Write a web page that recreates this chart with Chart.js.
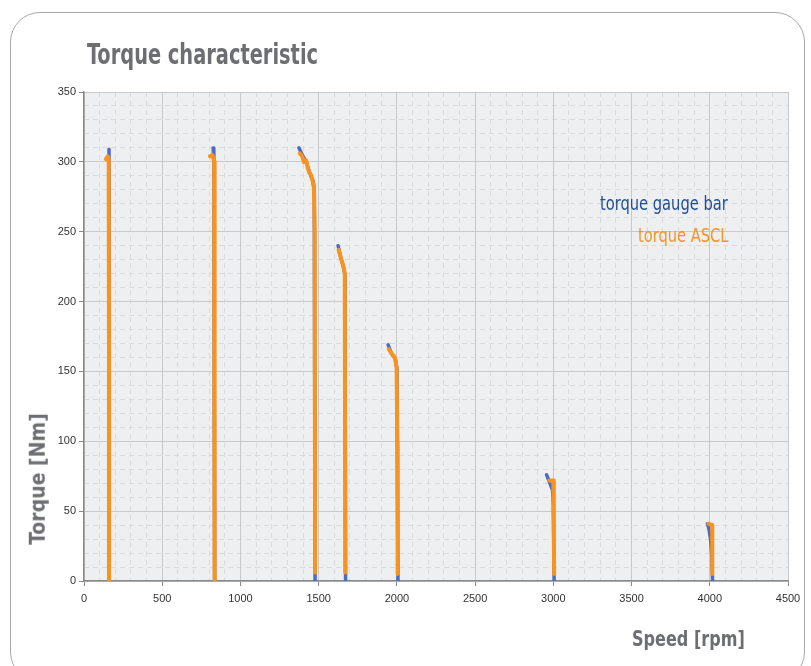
<!DOCTYPE html>
<html>
<head>
<meta charset="utf-8">
<script src="https://cdn.jsdelivr.net/npm/chart.js@4/dist/chart.umd.min.js"></script>
<style>
  body { margin: 0; background: #fff; width: 811px; height: 666px; overflow: hidden; position: relative; }
  .card { position: absolute; left: 10px; top: 12px; width: 795px; height: 670px; border: 1px solid #a9a9a9; border-radius: 30px; box-sizing: border-box; }
  #wrap { position: absolute; left: 0; top: 0; width: 811px; height: 666px; }
  .txt { position: absolute; font-family: "DejaVu Sans Condensed", "DejaVu Sans", sans-serif; font-stretch: condensed; white-space: nowrap; }
  #title { left: 87px; top: 38px; font-size: 28px; font-weight: bold; color: #6d6e71; transform-origin: 0 0; }
  #xtitle { left: 632px; top: 627px; font-size: 21px; font-weight: bold; color: #6d6e71; transform-origin: 0 0; }
  #ytitle { left: 38px; top: 478px; font-size: 21px; font-weight: bold; color: #6d6e71; }
  .leg { font-size: 19px; transform-origin: 100% 0; }
  #leg1 { top: 192px; color: #1f4d94; }
  #leg2 { top: 224px; color: #f7941d; }
</style>
</head>
<body>
<div class="card"></div>
<div id="wrap"><canvas id="c" width="811" height="666"></canvas></div>
<div class="txt" id="title">Torque characteristic</div>
<div class="txt" id="xtitle">Speed [rpm]</div>
<div class="txt" id="ytitle">Torque [Nm]</div>
<div class="txt leg" id="leg1">torque gauge bar</div>
<div class="txt leg" id="leg2">torque ASCL</div>
<script>
// torque gauge bar (blue), one array per measured speed step
const gaugeSpeed = [
  [160, 160, 160],
  [825, 830, 835],
  [1374, 1390, 1420, 1443, 1465, 1472, 1477],
  [1624, 1640, 1660, 1668, 1672],
  [1944, 1965, 1990, 2000, 2007],
  [2957, 2978, 2995, 3000, 3005],
  [3985, 3995, 4005, 4012, 4018]
];
const gaugeTorque = [
  [309, 302, 0],
  [310, 302, 0],
  [310, 306, 300, 292, 286, 280, 0],
  [240, 232, 224, 219, 0],
  [169, 163, 159, 152, 0],
  [76, 70, 65, 55, 0],
  [41, 37, 30, 20, 0]
];
// torque ASCL (orange)
const asclSpeed = [
  [140, 152, 158, 160, 160],
  [805, 820, 832, 835],
  [1380, 1395, 1405, 1420, 1430, 1440, 1450, 1460, 1470, 1475, 1477],
  [1628, 1635, 1645, 1656, 1667, 1670],
  [1948, 1965, 1987, 1998, 2003, 2005],
  [2974, 3000, 3003, 3005],
  [3992, 4015, 4016]
];
const asclTorque = [
  [302, 304, 302, 150, 0],
  [304, 305, 300, 0],
  [306, 304, 300, 301, 296, 292, 291, 287, 281, 250, 6],
  [237, 234, 230, 226, 220, 6],
  [166, 163, 160, 153, 100, 5],
  [72, 72, 40, 5],
  [41, 40, 5]
];
const xTicks = [0, 500, 1000, 1500, 2000, 2500, 3000, 3500, 4000, 4500];
const yTicks = [0, 50, 100, 150, 200, 250, 300, 350];

function toPoints(speeds, torques) {
  const pts = [];
  speeds.forEach((seg, i) => {
    if (i) pts.push({ x: NaN, y: NaN });
    seg.forEach((s, j) => pts.push({ x: s, y: torques[i][j] }));
  });
  return pts;
}

// squeeze the texts to the condensed widths of the original
function fit(id, w, anchorRight) {
  const el = document.getElementById(id);
  const k = w / el.offsetWidth;
  if (anchorRight) { el.style.left = (anchorRight - el.offsetWidth) + 'px'; }
  el.style.transform = 'scaleX(' + Math.min(1, k) + ')';
}
fit('title', 231);
fit('xtitle', 113);
fit('leg1', 128, 728);
fit('leg2', 90, 728);
(function () {
  const el = document.getElementById('ytitle');
  const k = Math.min(1, 140 / el.offsetWidth);
  el.style.left = (38 - el.offsetWidth / 2) + 'px';
  el.style.top = (479 - el.offsetHeight / 2) + 'px';
  el.style.transform = 'rotate(-90deg) scaleX(' + k + ')';
})();

const plotBg = {
  id: 'plotBg',
  beforeDraw(chart) {
    const { ctx, chartArea: a } = chart;
    ctx.save();
    ctx.fillStyle = '#eeeff0';
    ctx.fillRect(a.left, a.top, a.right - a.left, a.bottom - a.top);
    ctx.restore();
  }
};

const tickFont = { family: '"Liberation Sans", Arial, sans-serif', size: 11 };

new Chart(document.getElementById('c'), {
  type: 'scatter',
  data: {
    datasets: [
      {
        label: 'torque ASCL',
        data: toPoints(asclSpeed, asclTorque),
        showLine: true,
        borderColor: '#f7931e',
        borderWidth: 4,
        pointRadius: 0,
        borderCapStyle: 'round',
        borderJoinStyle: 'round',
        order: 0
      },
      {
        label: 'torque gauge bar',
        data: toPoints(gaugeSpeed, gaugeTorque),
        showLine: true,
        borderColor: '#4a6cc4',
        borderWidth: 3.5,
        pointRadius: 0,
        borderCapStyle: 'round',
        borderJoinStyle: 'round',
        order: 1
      }
    ]
  },
  options: {
    responsive: false,
    animation: false,
    layout: { padding: { top: 92, right: 23, bottom: 0, left: 0 } },
    plugins: { legend: { display: false }, tooltip: { enabled: false } },
    scales: {
      xMinor: {
        type: 'linear', position: 'bottom', min: 0, max: 4500,
        ticks: { stepSize: 100, display: false },
        grid: { color: c => c.tick && c.tick.value % 500 === 0 ? 'rgba(0,0,0,0)' : '#d9dadc', drawTicks: false, lineWidth: 1 },
        border: { display: false, dash: [5, 4] },
        afterFit: s => { s.height = 0; }
      },
      yMinor: {
        type: 'linear', position: 'left', min: 0, max: 350,
        ticks: { stepSize: 10, display: false },
        grid: { color: c => c.tick && c.tick.value % 50 === 0 ? 'rgba(0,0,0,0)' : '#d9dadc', drawTicks: false, lineWidth: 1 },
        border: { display: false, dash: [5, 4] },
        afterFit: s => { s.width = 0; }
      },
      x: {
        type: 'linear', position: 'bottom', min: 0, max: 4500,
        afterBuildTicks: s => { s.ticks = xTicks.map(v => ({ value: v })); },
        ticks: { color: '#333', font: tickFont, padding: 6, maxRotation: 0, callback: v => String(v) },
        grid: { color: '#c8c9cb', tickColor: '#8a8a8a', tickLength: 5, lineWidth: 1 },
        border: { color: '#8a8a8a', width: 1.5 },
        afterFit: s => { s.height = 85; }
      },
      y: {
        type: 'linear', position: 'left', min: 0, max: 350,
        afterBuildTicks: s => { s.ticks = yTicks.map(v => ({ value: v })); },
        ticks: { color: '#333', font: tickFont, padding: 3, callback: v => String(v) },
        grid: { color: '#c8c9cb', tickColor: '#8a8a8a', tickLength: 5, lineWidth: 1 },
        border: { color: '#8a8a8a', width: 1.5 },
        afterFit: s => { s.width = 84; }
      }
    }
  },
  plugins: [plotBg]
});
</script>
</body>
</html>
